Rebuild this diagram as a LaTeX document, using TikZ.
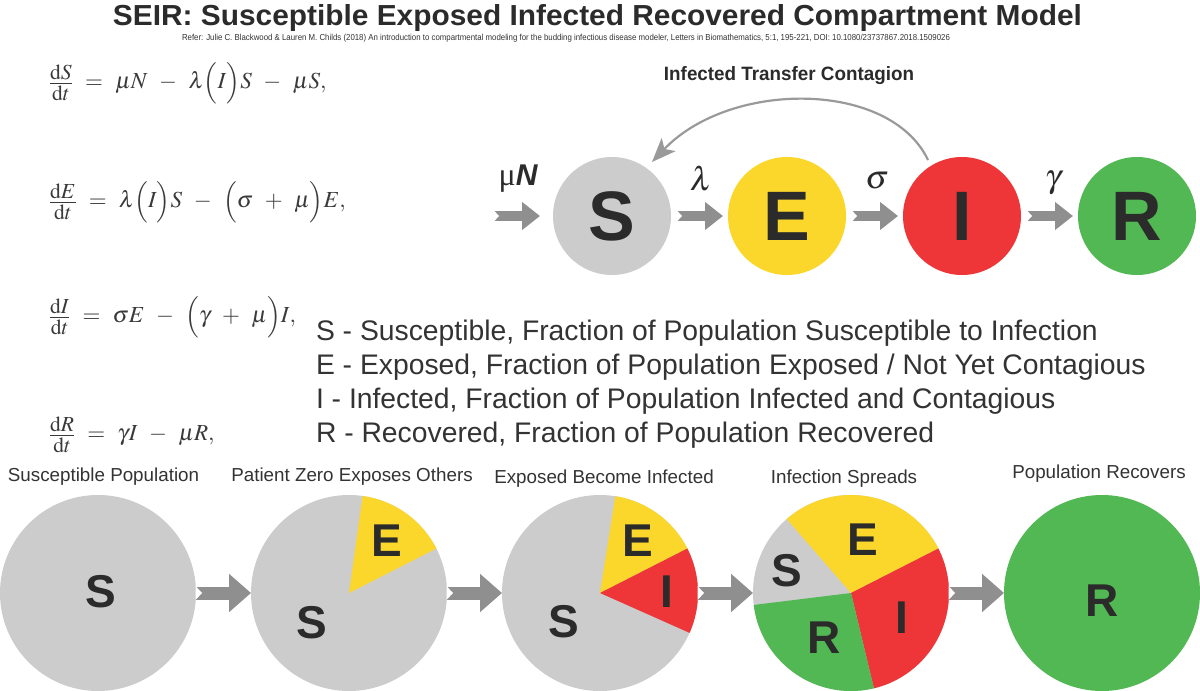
\documentclass[tikz,border=0pt]{standalone}
\usepackage{mathptmx}
\usepackage[no-math]{fontspec}
\setmainfont{Liberation Serif}
\setsansfont{Liberation Sans}
\usetikzlibrary{arrows.meta,calc}
\definecolor{cgray}{HTML}{CCCCCC}
\definecolor{cyel}{HTML}{FCD72B}
\definecolor{cred}{HTML}{EE3537}
\definecolor{cgreen}{HTML}{52B853}
\definecolor{carrow}{HTML}{8F8F8F}
\definecolor{ccurve}{HTML}{9A9A9A}
\definecolor{ctext}{HTML}{2B2B2B}
\definecolor{clegend}{HTML}{333333}
\definecolor{ceq}{HTML}{3A3A3A}
\newcommand\dfrc[1]{\vcenter{\hbox{\fontsize{29}{29}\selectfont$\frac{\mathrm{d}#1}{\mathrm{d}t}$}}}
\newcommand\eqsetup{\fontsize{23}{27}\selectfont\thickmuskip=9.5mu\medmuskip=9mu}
\begin{document}
\begin{tikzpicture}[x=1pt,y=-1pt,
  every node/.style={inner sep=0pt,outer sep=0pt},
  bigcirc/.style={circle,minimum size=118pt,text=ctext,font=\sffamily\bfseries\fontsize{70}{70}\selectfont},
  pie/.style={circle,minimum size=196pt,fill=cgray},
  pielet/.style={text=ctext,font=\sffamily\bfseries\fontsize{46}{46}\selectfont},
  blockarr/.style={draw=carrow,line width=10.7pt,-{Triangle[length=18pt,width=27pt]}},
  bigblockarr/.style={draw=carrow,line width=13pt,-{Triangle[length=22pt,width=37pt]}},
  curvearr/.style={draw=ccurve,line width=2.2pt,-{Stealth[length=24pt,width=19pt,inset=6pt]}},
  greek/.style={text=ctext,font=\fontsize{33}{33}\selectfont},
  eqn/.style={anchor=base west,text=ceq,font=\eqsetup},
  legend/.style={anchor=base west,text=clegend,font=\sffamily\fontsize{28.3}{32}\selectfont},
  pielabel/.style={anchor=base,text=clegend,font=\sffamily\fontsize{18.8}{21}\selectfont}
]
\fill[white] (0,0) rectangle (1200,691);
\useasboundingbox (0,0) rectangle (1200,691);

% title and reference
\node[anchor=base,text=ctext] (title) at (597.5,25)
  {\resizebox{969pt}{21pt}{\sffamily\bfseries SEIR: Susceptible Exposed Infected Recovered Compartment Model}};
\node[anchor=base west,text=clegend] (refer) at (182,40)
  {\resizebox{768pt}{6.3pt}{\sffamily Refer: Julie C. Blackwood \& Lauren M. Childs (2018) An introduction to compartmental modeling for the budding infectious disease modeler, Letters in Biomathematics, 5:1, 195-221, DOI: 10.1080/23737867.2018.1509026}};

% equations
\node[eqn] (eq1) at (49,88.8) {$\dfrc{S} = \mu N - \lambda\Bigl(I\Bigr)S - \mu S,$};
\node[eqn] (eq2) at (49,207.8) {$\dfrc{E} = \lambda\Bigl(I\Bigr)S - \Bigl(\sigma + \mu\Bigr)E,$};
\node[eqn] (eq3) at (49,322.8) {$\dfrc{I} = \sigma E - \Bigl(\gamma + \mu\Bigr)I,$};
\node[eqn] (eq4) at (49,440.8) {$\dfrc{R} = \gamma I - \mu R,$};

% top compartment diagram
\node[bigcirc,fill=cgray] (S) at (612,216) {S};
\node[bigcirc,fill=cyel] (E) at (787,216) {E};
\node[bigcirc,fill=cred] (I) at (962,216) {I};
\node[bigcirc,fill=cgreen] (R) at (1137,216) {R};

\coordinate (a0) at (494,216);
\coordinate (a1) at ($(S.east)+(6,0)$);
\coordinate (a2) at ($(E.east)+(6,0)$);
\coordinate (a3) at ($(I.east)+(6,0)$);
\draw[blockarr] (a0) -- ($(S.west)+(-13,0)$);
\draw[blockarr] (a1) -- ($(E.west)+(-5,0)$);
\draw[blockarr] (a2) -- ($(I.west)+(-5,0)$);
\draw[blockarr] (a3) -- ($(R.west)+(-5,0)$);
\foreach \p in {a0,a1,a2,a3}
  \fill[white] (\p) ++(-0.5,-6) -- ++(5.5,6) -- ++(-5.5,6) -- cycle;

\node[anchor=base,text=ctext] (muN) at (518,185) {\fontsize{32}{32}\selectfont\rmfamily μ{\sffamily\bfseries\itshape\fontsize{30}{30}\selectfont N}};
\node[greek] (lam) at (701,178.5) {$\lambda$};
\node[greek] (sig) at (877,180.5) {$\sigma$};
\node[greek] (gam) at (1053,183.5) {$\gamma$};

\coordinate (cs) at ($(I.center)+(-34,-56)$);
\coordinate (ce) at ($(S.center)+(40,-54)$);
\draw[curvearr] (cs) .. controls (890,80) and (730,80) .. (ce);
\node[anchor=base,text=ctext] (contag) at (789,80)
  {\resizebox{250pt}{14pt}{\sffamily\bfseries Infected Transfer Contagion}};

% legend
\node[legend] (l1) at (316,340) {S - Susceptible, Fraction of Population Susceptible to Infection};
\node[legend] (l2) at (316,374) {E - Exposed, Fraction of Population Exposed / Not Yet Contagious};
\node[legend] (l3) at (316,408) {I - Infected, Fraction of Population Infected and Contagious};
\node[legend] (l4) at (316,442) {R - Recovered, Fraction of Population Recovered};

% bottom pies
\node[pie] (p1) at (98,593) {};
\node[pie] (p2) at (349,593) {};
\node[pie] (p3) at (600,593) {};
\node[pie] (p4) at (851,593) {};
\node[pie,fill=cgreen] (p5) at (1102,593) {};

\begin{scope}
  \clip (p2.center) circle[radius=98pt];
  \fill[cyel] (p2.center) -- ($(p2.center)+(-27:200)$) -- ($(p2.center)+(-82:200)$) -- cycle;
\end{scope}
\begin{scope}
  \clip (p3.center) circle[radius=98pt];
  \fill[cyel] (p3.center) -- ($(p3.center)+(-27:200)$) -- ($(p3.center)+(-81:200)$) -- cycle;
  \fill[cred] (p3.center) -- ($(p3.center)+(24:200)$) -- ($(p3.center)+(-27:200)$) -- cycle;
\end{scope}
\begin{scope}
  \clip (p4.center) circle[radius=98pt];
  \fill[cyel] (p4.center) -- ($(p4.center)+(-27:200)$) -- ($(p4.center)+(-131:200)$) -- cycle;
  \fill[cred] (p4.center) -- ($(p4.center)+(76.5:200)$) -- ($(p4.center)+(-27:200)$) -- cycle;
  \fill[cgreen] (p4.center) -- ($(p4.center)+(-187:200)$) -- ($(p4.center)+(-283.5:200)$) -- cycle;
\end{scope}

\node[pielet] at (101,592) {S};
\node[pielet] at (312,623) {S};
\node[pielet] at (387,541) {E};
\node[pielet] at (564,622) {S};
\node[pielet] at (638,541) {E};
\node[pielet] at (667,592) {I};
\node[pielet] at (787,571) {S};
\node[pielet] at (863,540) {E};
\node[pielet] at (902,618) {I};
\node[pielet] at (824,638) {R};
\node[pielet] at (1102,601) {R};

\draw[bigblockarr] (p1.east) -- (p2.west);
\draw[bigblockarr] (p2.east) -- (p3.west);
\draw[bigblockarr] (p3.east) -- (p4.west);
\draw[bigblockarr] (p4.east) -- (p5.west);
\foreach \p in {p1,p2,p3,p4}
  \fill[white] (\p.east) ++(-0.5,-7) -- ++(6.5,7) -- ++(-6.5,7) -- cycle;

\node[pielabel] (t1) at (103.5,481) {Susceptible Population};
\node[pielabel] (t2) at (352,481) {Patient Zero Exposes Others};
\node[pielabel] (t3) at (604,483) {Exposed Become Infected};
\node[pielabel] (t4) at (844,483) {Infection Spreads};
\node[pielabel] (t5) at (1099,478) {Population Recovers};
\end{tikzpicture}
\end{document}
